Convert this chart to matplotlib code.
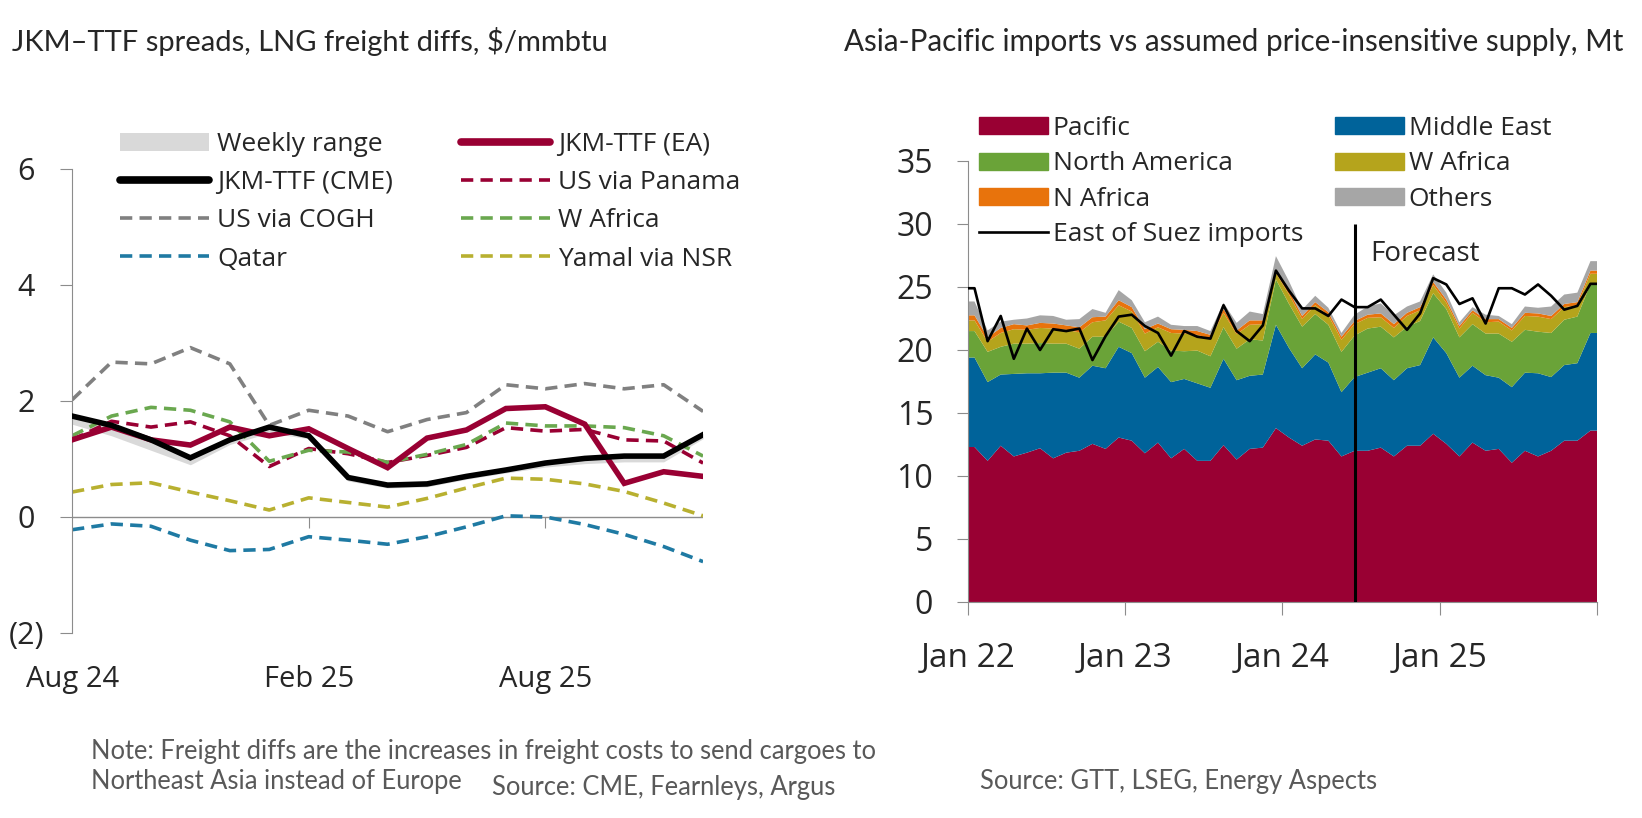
import numpy as np
import matplotlib
matplotlib.use('Agg')
import matplotlib.pyplot as plt
from matplotlib.patches import Patch
from matplotlib.lines import Line2D

# ---- left chart: JKM-TTF spreads and freight diffs, monthly Aug 24 - Dec 25
left_ticks = [0, 6, 12]
left_tick_labels = ['Aug 24', 'Feb 25', 'Aug 25']
cme = [1.74, 1.58, 1.33, 1.02, 1.33, 1.55, 1.40, 0.68, 0.55, 0.57, 0.70, 0.81, 0.93, 1.01, 1.05, 1.05, 1.42]
ea = [1.33, 1.55, 1.33, 1.24, 1.55, 1.40, 1.52, 1.18, 0.85, 1.36, 1.50, 1.87, 1.90, 1.60, 0.58, 0.78, 0.70]
weekly_lo = [1.60, 1.40, 1.15, 0.90, 1.25, 1.45, 1.35, 0.62, 0.50, 0.52, 0.65, 0.76, 0.86, 0.92, 0.95, 0.95, 1.35]
weekly_hi = [1.76, 1.60, 1.35, 1.04, 1.35, 1.57, 1.42, 0.70, 0.57, 0.59, 0.72, 0.83, 0.95, 1.03, 1.07, 1.07, 1.44]
cogh = [2.02, 2.67, 2.64, 2.92, 2.64, 1.58, 1.84, 1.74, 1.47, 1.68, 1.80, 2.28, 2.21, 2.30, 2.21, 2.28, 1.82]
panama = [1.33, 1.65, 1.55, 1.64, 1.40, 0.87, 1.18, 1.09, 0.94, 1.06, 1.20, 1.54, 1.48, 1.51, 1.33, 1.31, 0.93]
wafrica = [1.40, 1.74, 1.89, 1.84, 1.64, 0.96, 1.15, 1.12, 0.94, 1.08, 1.25, 1.62, 1.57, 1.57, 1.54, 1.40, 1.05]
yamal = [0.43, 0.56, 0.59, 0.43, 0.28, 0.12, 0.33, 0.25, 0.17, 0.32, 0.50, 0.67, 0.65, 0.57, 0.44, 0.24, 0.02]
qatar = [-0.22, -0.12, -0.16, -0.40, -0.58, -0.56, -0.34, -0.40, -0.47, -0.34, -0.17, 0.02, 0.00, -0.13, -0.30, -0.51, -0.77]

# ---- right chart: Asia-Pacific imports by source, Mt, monthly Jan 22 - Dec 25
right_ticks = [0, 12, 24, 36]
right_tick_labels = ['Jan 22', 'Jan 23', 'Jan 24', 'Jan 25']
forecast_start = 29.5
pacific = [12.3, 11.2, 12.4, 11.55, 11.85, 12.2, 11.4, 11.85, 12.0, 12.55, 12.15, 13.05,
           12.8, 11.8, 12.65, 11.4, 12.15, 11.2, 11.2, 12.45, 11.3, 12.15, 12.25, 13.8,
           13.05, 12.4, 12.9, 12.8, 11.55, 12.0, 12.0, 12.25, 11.55, 12.4, 12.4, 13.35,
           12.55, 11.55, 12.65, 12.0, 12.15, 11.05, 12.0, 11.55, 12.0, 12.8, 12.8, 13.6]
middle_east = [7.1, 6.25, 5.65, 6.55, 6.3, 5.95, 6.8, 6.35, 5.8, 6.2, 6.4, 7.2,
               6.95, 6.0, 6.0, 6.05, 5.55, 6.15, 5.8, 6.85, 6.3, 5.8, 5.8, 8.2,
               7.1, 6.15, 6.75, 6.2, 5.1, 5.85, 6.2, 6.3, 6.05, 6.15, 6.4, 7.65,
               7.2, 6.25, 6.1, 6.0, 5.65, 6.0, 6.2, 6.6, 5.85, 6.0, 6.15, 7.75]
north_america = [2.1, 2.4, 2.2, 2.4, 2.35, 2.4, 2.3, 2.3, 2.3, 2.3, 2.5, 2.0,
                 2.0, 2.1, 2.0, 2.5, 2.2, 2.6, 2.5, 2.5, 2.5, 2.9, 2.7, 3.6,
                 3.5, 3.3, 3.2, 3.0, 3.2, 3.3, 3.5, 3.3, 3.4, 3.3, 3.5, 3.5,
                 3.5, 3.2, 3.3, 3.3, 3.5, 3.6, 3.4, 3.3, 3.5, 3.6, 3.7, 3.9]
w_africa = [0.85, 0.8, 1.1, 1.15, 1.1, 1.2, 1.2, 1.1, 1.3, 1.15, 1.3, 1.3,
            1.3, 1.4, 1.15, 1.4, 1.4, 1.25, 1.4, 1.15, 1.15, 1.15, 1.3, 0.5,
            0.75, 0.6, 0.7, 0.75, 0.95, 0.9, 0.85, 0.75, 0.75, 0.85, 0.85, 0.65,
            0.5, 0.7, 0.9, 0.9, 0.95, 0.9, 1.1, 1.2, 1.1, 1.0, 0.9, 0.8]
n_africa = [0.4, 0.35, 0.4, 0.4, 0.35, 0.4, 0.4, 0.35, 0.4, 0.4, 0.3, 0.4,
            0.35, 0.35, 0.3, 0.3, 0.3, 0.3, 0.3, 0.3, 0.3, 0.35, 0.3, 0.3,
            0.3, 0.25, 0.25, 0.25, 0.25, 0.25, 0.25, 0.3, 0.3, 0.25, 0.25, 0.25,
            0.25, 0.2, 0.2, 0.25, 0.2, 0.2, 0.25, 0.25, 0.25, 0.25, 0.25, 0.25]
others = [1.1, 0.55, 0.5, 0.35, 0.55, 0.6, 0.6, 0.45, 0.65, 0.65, 0.3, 0.8,
          0.55, 0.55, 0.55, 0.35, 0.3, 0.4, 0.3, 0.5, 0.6, 0.7, 0.5, 1.05,
          0.75, 0.5, 0.5, 0.35, 0.3, 0.5, 0.65, 0.8, 0.7, 0.5, 0.45, 0.6,
          0.55, 0.3, 0.25, 0.35, 0.25, 0.3, 0.5, 0.45, 0.75, 0.75, 0.75, 0.75]
east_of_suez = [24.9, 20.7, 22.7, 19.3, 21.7, 20.0, 21.65, 21.5, 21.7, 19.2, 21.1, 22.65,
                22.8, 21.9, 21.35, 19.55, 21.5, 21.05, 20.9, 23.55, 21.5, 20.7, 21.95, 26.3,
                24.7, 23.3, 23.3, 22.7, 24.0, 23.4, 23.4, 24.0, 22.8, 21.6, 22.9, 25.7,
                25.2, 23.65, 24.1, 22.1, 24.9, 24.9, 24.4, 25.2, 24.3, 23.2, 23.5, 25.25]

crimson = '#990033'; blue = '#00639a'; green = '#6aa338'; olive = '#b5a41c'
orange = '#e8730c'; grey = '#a6a6a6'; axis_grey = '#8c8c8c'; txt = '#262626'

plt.rcParams['font.family'] = ['Open Sans', 'DejaVu Sans']
fig = plt.figure(figsize=(16.42, 8.18), dpi=100)

# ================= left chart
ax = fig.add_axes([0.0439, 0.2262, 0.3843, 0.5672])
x = np.arange(len(cme))
ax.fill_between(x, weekly_lo, weekly_hi, color='#d9d9d9', lw=0, zorder=1)
dash = (3.4, 2.0)
ax.plot(x, cogh, color='#808080', lw=2.6, ls=(0, dash), zorder=2)
ax.plot(x, panama, color=crimson, lw=2.6, ls=(0, dash), zorder=2)
ax.plot(x, wafrica, color='#6aa84f', lw=2.6, ls=(0, dash), zorder=2)
ax.plot(x, yamal, color='#b8b030', lw=2.6, ls=(0, dash), zorder=2)
ax.plot(x, qatar, color='#1f7aa3', lw=2.6, ls=(0, dash), zorder=2)
ax.plot(x, ea, color=crimson, lw=4.0, zorder=3, solid_joinstyle='miter')
ax.plot(x, cme, color='black', lw=4.0, zorder=4, solid_joinstyle='miter')
ax.axhline(0, color=axis_grey, lw=1.0, zorder=0)
ax.set_xlim(0, len(cme) - 1)
ax.set_ylim(-2, 6)
ax.set_yticks([-2, 0, 2, 4, 6])
ax.set_yticklabels(['(2)', '0', '2', '4', '6'], ha='center')
ax.set_xticks(left_ticks)
ax.set_xticklabels(left_tick_labels)
for s in ['top', 'right', 'bottom']:
    ax.spines[s].set_visible(False)
ax.spines['left'].set_color(axis_grey)
ax.tick_params(axis='y', length=9, color=axis_grey, labelsize=22, pad=24, labelcolor=txt)
ax.tick_params(axis='x', length=0, labelsize=21, pad=23, labelcolor=txt)
sec = ax.secondary_xaxis(0.25)
sec.set_xticks(left_ticks[1:])
sec.tick_params(axis='x', length=8, color=axis_grey, labelbottom=False)
sec.spines['bottom'].set_visible(False)

h_left = [Patch(facecolor='#d9d9d9', edgecolor='none'),
          Line2D([], [], color='black', lw=5.5, solid_capstyle='round'),
          Line2D([], [], color='#808080', lw=2.6, ls=(0, dash)),
          Line2D([], [], color='#1f7aa3', lw=2.6, ls=(0, dash)),
          Line2D([], [], color=crimson, lw=5.5, solid_capstyle='round'),
          Line2D([], [], color=crimson, lw=2.6, ls=(0, dash)),
          Line2D([], [], color='#6aa84f', lw=2.6, ls=(0, dash)),
          Line2D([], [], color='#b8b030', lw=2.6, ls=(0, dash))]
l_left = ['Weekly range', 'JKM-TTF (CME)', 'US via COGH', 'Qatar',
          'JKM-TTF (EA)', 'US via Panama', 'W Africa', 'Yamal via NSR']
leg = fig.legend(h_left, l_left, ncol=2, loc='upper left', bbox_to_anchor=(0.0731, 0.8386),
                 frameon=False, fontsize=19, handlelength=3.37, handletextpad=0.3,
                 columnspacing=2.6, labelspacing=0.5, borderaxespad=0, borderpad=0)
for t in leg.get_texts():
    t.set_color(txt)

# ================= right chart
ax2 = fig.add_axes([0.5895, 0.2641, 0.3831, 0.5391])
xm = np.arange(len(pacific)) + 0.5
xe = np.r_[0, xm, len(pacific)]
hold = lambda v: np.r_[v[0], v, v[-1]]
stack_cols = [crimson, blue, green, olive, orange, grey]
ax2.stackplot(xe, hold(pacific), hold(middle_east), hold(north_america), hold(w_africa),
              hold(n_africa), hold(others), colors=stack_cols, lw=0)
ax2.plot(xe, hold(east_of_suez), color='black', lw=1.9, zorder=4)
ax2.vlines(forecast_start, 0, 30, color='black', lw=2.2, zorder=5)
ax2.annotate('Forecast', (forecast_start, 27.6), xytext=(11, 0), textcoords='offset points',
             va='center', ha='left', fontsize=20, color=txt)
ax2.set_xlim(0, len(pacific))
ax2.set_ylim(0, 35)
ax2.set_yticks(range(0, 36, 5))
ax2.set_xticks(right_ticks + [len(pacific)])
ax2.set_xticklabels(right_tick_labels + [''])
for s in ['top', 'right']:
    ax2.spines[s].set_visible(False)
ax2.spines['left'].set_color(axis_grey)
ax2.spines['bottom'].set_color(axis_grey)
ax2.tick_params(axis='y', length=8, color=axis_grey, labelsize=23, pad=17, labelcolor=txt)
ax2.tick_params(axis='x', length=9, color=axis_grey, labelsize=24, pad=20, labelcolor=txt)

h_right = [Patch(color=crimson), Patch(color=green), Patch(color=orange),
           Line2D([], [], color='black', lw=1.9),
           Patch(color=blue), Patch(color=olive), Patch(color=grey)]
l_right = ['Pacific', 'North America', 'N Africa', 'East of Suez imports',
           'Middle East', 'W Africa', 'Others']
leg2 = fig.legend(h_right, l_right, ncol=2, loc='upper left', bbox_to_anchor=(0.5962, 0.858),
                  frameon=False, fontsize=19, handlelength=2.6, handleheight=0.6,
                  handletextpad=0.2, columnspacing=1.2, labelspacing=0.39,
                  borderaxespad=0, borderpad=0)
for t in leg2.get_texts():
    t.set_color(txt)

# ================= titles and notes
fig.text(0.0075, 0.949, 'JKM\u2013TTF spreads, LNG freight diffs, $/mmbtu', family='Lato',
         fontsize=21, color=txt, va='center')
fig.text(0.514, 0.949, 'Asia-Pacific imports vs assumed price-insensitive supply, Mt', family='Lato',
         fontsize=21.3, color=txt, va='center')
note_col = '#595959'
fig.text(0.0555, 0.081, 'Note: Freight diffs are the increases in freight costs to send cargoes to',
         family='Lato', fontsize=18.4, color=note_col, va='center')
fig.text(0.0555, 0.045, 'Northeast Asia instead of Europe', family='Lato', fontsize=18.4,
         color=note_col, va='center')
fig.text(0.2997, 0.037, 'Source: CME, Fearnleys, Argus', family='Lato', fontsize=18.4,
         color=note_col, va='center')
fig.text(0.597, 0.045, 'Source: GTT, LSEG, Energy Aspects', family='Lato', fontsize=18.4,
         color=note_col, va='center')

fig.savefig('out.png', dpi=100)
